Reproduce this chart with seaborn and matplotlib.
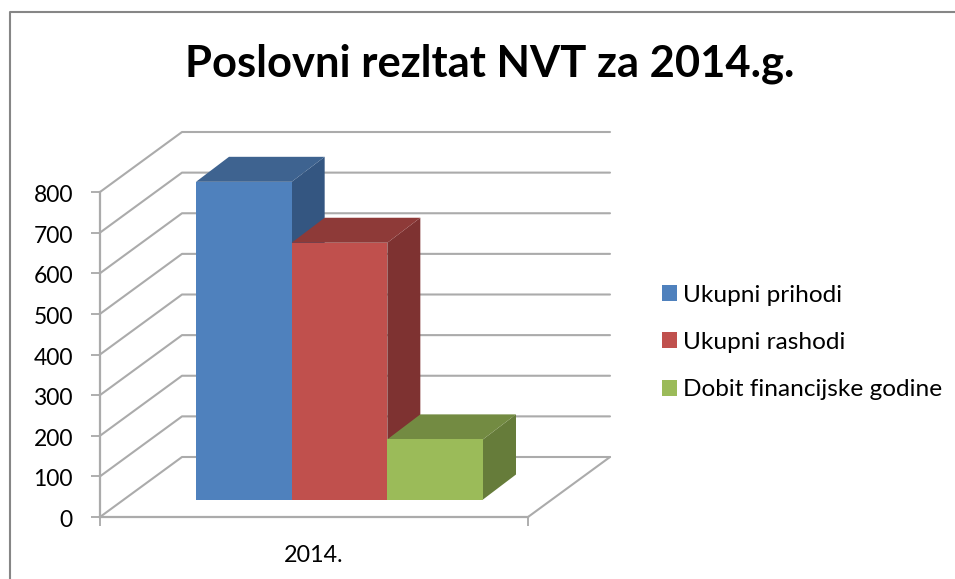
import pandas as pd
import seaborn as sns
import matplotlib.pyplot as plt
from matplotlib.lines import Line2D
from matplotlib.patches import Patch, Polygon
from matplotlib.transforms import ScaledTranslation

series_names = ["Ukupni prihodi", "Ukupni rashodi", "Dobit financijske godine"]
series_values = [782, 632, 148]
y_ticks = [0, 100, 200, 300, 400, 500, 600, 700, 800]
year_label = "2014."
title = "Poslovni rezltat NVT za 2014.g."

front_colors = ["#4f81bd", "#c0504d", "#9bbb59"]
top_colors = ["#3e6390", "#8e3a38", "#738b42"]
side_colors = ["#345681", "#7e3231", "#667c3a"]
grid_color = "#ababab"

W, H = 955, 579
font_name = "Lato"


def px_axes(fig, left, right, top, bottom):
    # axes position given in picture pixels
    return fig.add_axes([left / W, 1 - bottom / H, (right - left) / W, (bottom - top) / H])


sns.set_theme(style="white")
plt.rcParams["font.family"] = [font_name, "DejaVu Sans"]

fig = plt.figure(figsize=(W / 100, H / 100), dpi=100, facecolor="white")

# outer chart border, only top and left are in the picture
fig.add_artist(Line2D([10 / W, 10 / W, 1], [0, 1 - 12 / H, 1 - 12 / H], color="#868686", lw=1.5))

fig.text(489.5 / W, 1 - 77 / H, title, ha="center", va="baseline",
         fontsize=31.3, fontweight="bold", color="black")

# Axes with the scale, walls and floor
ax = px_axes(fig, 100, 528, 192, 517)
ax.set_xlim(0, 1)
ax.set_ylim(0, 800)
ax.patch.set_alpha(0)
for name in ["top", "right"]:
    ax.spines[name].set_visible(False)
for name in ["left", "bottom"]:
    ax.spines[name].set_color(grid_color)
    ax.spines[name].set_linewidth(1.6)

ax.set_yticks(y_ticks)
ax.tick_params(axis="y", left=True, length=6.5, width=1.1, color="#999999", pad=13,
               labelsize=16.5, labelcolor="black")
# labels sit a little under their ticks in the reference
for label in ax.get_yticklabels():
    label.set_transform(label.get_transform() + ScaledTranslation(0, -1.5 / 100, fig.dpi_scale_trans))
ax.set_xticks([0, 1])
ax.set_xticklabels(["", ""])
ax.set_xticks([0.5], [year_label], minor=True)
ax.tick_params(axis="x", which="major", bottom=True, length=6.5, width=1.1, color="#999999")
ax.tick_params(axis="x", which="minor", bottom=False, labelsize=16.8, labelcolor="black", pad=16)

# depth of the walls in data units of ax
wall_dx = 82 / 428
wall_dy = 60 / (325 / 800)
for tick in y_ticks:
    ax.plot([0, wall_dx, 1 + wall_dx], [tick, tick + wall_dy, tick + wall_dy],
            color=grid_color, lw=1.5, clip_on=False, zorder=1)
ax.plot([1, 1 + wall_dx], [0, wall_dy], color=grid_color, lw=1.5, clip_on=False, zorder=1)

# Axes with the bars, its zero sits further back on the floor
bar_ax = px_axes(fig, 196, 483, 499.5 - 325, 499.5)
bar_ax.patch.set_alpha(0)
df = pd.DataFrame({"series": series_names, "value": series_values})
sns.barplot(data=df, x="series", y="value", hue="series", hue_order=series_names,
            palette=front_colors, width=1, dodge=False, legend=False, saturation=1,
            linewidth=0, ax=bar_ax)
bar_ax.set_xlim(-0.5, 2.5)
bar_ax.set_ylim(0, 800)
bar_ax.axis("off")

# depth of the bars in data units of bar_ax
bar_dx = 33 / (287 / 3)
bar_dy = 25 / (325 / 800)
bars = [b for b in bar_ax.patches if b.get_height() > 0]
for i, bar in enumerate(bars):
    x0 = bar.get_x()
    x1 = x0 + bar.get_width()
    h = bar.get_height()
    side = [(x1, 0), (x1 + bar_dx, bar_dy), (x1 + bar_dx, h + bar_dy), (x1, h)]
    top = [(x0, h), (x0 + bar_dx, h + bar_dy), (x1 + bar_dx, h + bar_dy), (x1, h)]
    bar_ax.add_patch(Polygon(side, closed=True, fc=side_colors[i], ec="none", clip_on=False, zorder=3 * i + 1))
    bar_ax.add_patch(Polygon(top, closed=True, fc=top_colors[i], ec="none", clip_on=False, zorder=3 * i + 1))
    bar.set_zorder(3 * i + 2)
    bar.set_clip_on(False)

handles = [Patch(fc=c, ec="none") for c in front_colors]
fig.legend(handles, series_names, loc="upper left", bbox_to_anchor=(662 / W, 1 - 284.5 / H),
           bbox_transform=fig.transFigure, frameon=False, borderaxespad=0, borderpad=0,
           fontsize=17.6, handlelength=0.61, handleheight=0.61, handletextpad=0.26,
           labelspacing=1.08, labelcolor="black")

fig.savefig("out.png", dpi=100)
